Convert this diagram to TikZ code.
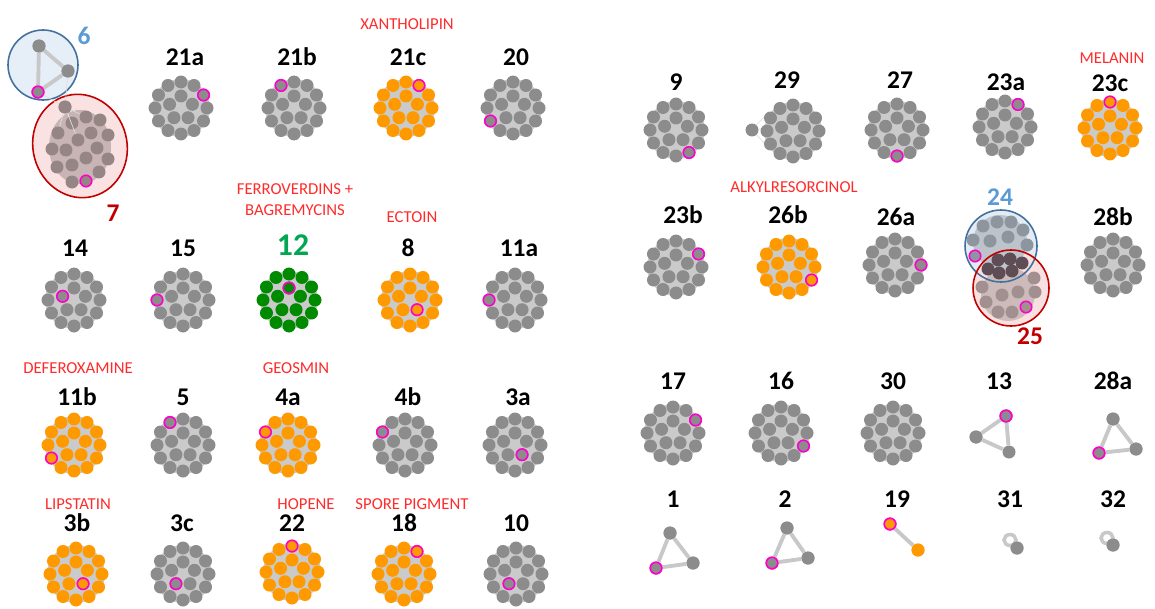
\documentclass[tikz,border=0pt]{standalone}
\usepackage{fontspec}
\setmainfont{Carlito}
\usetikzlibrary{shapes.geometric, positioning}

\definecolor{dotgrey}{HTML}{8C8C8C}
\definecolor{discgrey}{HTML}{CACACA}
\definecolor{dotorange}{HTML}{FF9900}
\definecolor{dotgreen}{HTML}{008A00}
\definecolor{hitpink}{HTML}{FF00CC}
\definecolor{labelred}{HTML}{FF2A2A}
\definecolor{labelgreen}{HTML}{00A650}
\definecolor{darkred}{HTML}{C00000}
\definecolor{labelblue}{HTML}{5B9BD5}
\definecolor{ringblue}{HTML}{41719C}
\definecolor{edgegrey}{HTML}{C8C8C8}
\definecolor{sixfill}{HTML}{E6EEF8}
\definecolor{sevenfill}{HTML}{FAE2E2}
\definecolor{sevendisc}{HTML}{C8B4B4}
\definecolor{sevendot}{HTML}{968585}
\definecolor{bluefill}{HTML}{E3EBF4}
\definecolor{redfill}{HTML}{F8E0E0}
\definecolor{bluedisc}{HTML}{BCC3CA}
\definecolor{reddisc}{HTML}{CDBBBB}
\definecolor{bluedot}{HTML}{8D969E}
\definecolor{bothdot}{HTML}{5E4D54}
\definecolor{reddot}{HTML}{A28F8F}

\begin{document}
\begin{tikzpicture}[
x=0.02cm, y=-0.02cm,
    dot/.style={circle, inner sep=0pt, minimum size=0.26cm, fill=dotgrey},
    hit/.style={dot, draw=hitpink, line width=0.9pt, minimum size=0.23cm},
    edge/.style={draw=edgegrey, line width=2.2pt},
    faint/.style={draw=edgegrey!60, line width=0.4pt},
    num/.style={font=\fontsize{14.5}{16}\selectfont\bfseries},
    product/.style={text=labelred, font=\fontsize{9.5}{12}\selectfont, align=center}
]
    \useasboundingbox (0,0) rectangle (1155,608);

    % --- Clusters with one highlighted member ---
    \foreach \nm/\cx/\cy/\col/\ha/\hr in {
        21a/181/108/dotgrey/-30/26, 21b/294/108/dotgrey/-120/26,
        21c/406/108/dotorange/-60/26, 20/513/108/dotgrey/150/26,
        14/74/300/dotgrey/198/12, 15/183/300/dotgrey/180/26,
        12/289/300/dotgreen/-90/12, 8/410/300/dotorange/54/12,
        11a/515/300/dotgrey/180/26,
        11b/74/445/dotorange/150/26, 5/183/445/dotgrey/-120/26,
        4a/288/445/dotorange/-150/26, 4b/405/445/dotgrey/-150/26,
        3a/515/445/dotgrey/54/12,
        3b/76/574/dotorange/54/12, 3c/183/574/dotgrey/126/12,
        22/292/572/dotorange/-90/26, 18/404/574/dotorange/-60/26,
        10/516/574/dotgrey/126/12,
        9/676/130/dotgrey/60/26, 27/897/130/dotgrey/90/26,
        23a/1005/127/dotgrey/-60/26, 23c/1110/128/dotorange/-90/26,
        23b/676/267/dotgrey/-30/26, 26b/789/267/dotorange/30/26,
        26a/895/265/dotgrey/0/26,
        17/673/433/dotgrey/-30/26, 16/781/433/dotgrey/30/26}{
        \begin{scope}[shift={(\cx,\cy)}]
            \fill[discgrey] (0,0) circle (29);
            \foreach \a in {0,30,...,330}
                \node[dot, fill=\col] (c\nm-o\a) at (\a:26) {};
            \foreach \a in {-90,-18,54,126,198}
                \node[dot, fill=\col] (c\nm-i\a) at (\a:12) {};
            \node[hit, fill=\col] (c\nm-h) at (\ha:\hr) {};
        \end{scope}
    }

    % --- Clusters without highlight ---
    \node[dot] (c29-x) at (752,130) {};
    \draw[faint] (c29-x) -- (767,128);
    \draw[faint] (c29-x) -- (767,114);
    \draw[faint] (c29-x) -- (767,146);
    \foreach \nm/\cx/\cy in {29/793/131, 28b/1113/265, 30/893/433}{
        \begin{scope}[shift={(\cx,\cy)}]
            \fill[discgrey] (0,0) circle (29);
            \foreach \a in {0,30,...,330}
                \node[dot] (c\nm-o\a) at (\a:26) {};
            \foreach \a in {-90,-18,54,126,198}
                \node[dot] (c\nm-i\a) at (\a:12) {};
        \end{scope}
    }

    % --- 6 and 7 ---
    \draw[ringblue, fill=sixfill, line width=0.9pt] (43,65) circle (35);
    \draw[darkred, fill=sevenfill, line width=0.9pt, rotate around={15:(80,146)}] (80,146) ellipse (47 and 52);
    \fill[sevendisc] (80,147) ellipse (31 and 37);
    \node[dot] (t6a) at (39,46) {};
    \node[dot] (t6b) at (68,71) {};
    \node[hit] (t6c) at (38,92) {};
    \foreach \p/\q/\n in {65/107/1, 86/117/2, 100/120/3, 72/123/4, 58/133/5, 78/140/6,
        91/133/7, 108/135/8, 52/149/9, 66/150/10, 86/158/11, 97/148/12,
        108/159/13, 57/167/14, 72/165/15, 99/172/16, 72/182/17}
        \node[dot, fill=sevendot] (c7-\n) at (\p,\q) {};
    \node[hit, fill=sevendot] (c7-18) at (86,181) {};
    \draw[edge] (t6a) -- (t6b);
    \draw[edge] (t6b) -- (t6c);
    \draw[edge] (t6c) -- (t6a);
    \draw[faint] (t6b) -- (c7-1);
    \draw[faint] (t6c) -- (c7-1);
    \foreach \n in {2,4,5,6} \draw[faint] (c7-1) -- (c7-\n);
    \node[dot] at (t6a) {};
    \node[dot] at (t6b) {};
    \node[hit] at (t6c) {};
    \node[dot, fill=sevendot] at (c7-1) {};

    % --- 24 and 25 ---
    \fill[bluefill] (1001,246) circle (36);
    \fill[redfill] (1011,288) circle (38);
    \fill[bluedisc] (1000,242) circle (27);
    \fill[reddisc] (1008,294) circle (27);
    \foreach \p/\q/\n in {983/226/1, 997/222/2, 1011/222/3, 1023/230/4, 973/240/5,
        990/241/6, 1008/237/7, 1027/245/8}
        \node[dot, fill=bluedot] (c24-\n) at (\p,\q) {};
    \node[hit, fill=bluedot] (c24-9) at (975,256) {};
    \foreach \p/\q/\n in {998/260/1, 1010/259/2, 1022/263/3, 988/269/4, 999/273/5, 1012/271/6}
        \node[dot, fill=bothdot] (cboth-\n) at (\p,\q) {};
    \foreach \p/\q/\n in {1034/278/1, 982/287/2, 1002/295/3, 1018/292/4, 1035/292/5,
        986/302/6, 998/312/7, 1012/312/8}
        \node[dot, fill=reddot] (c25-\n) at (\p,\q) {};
    \node[hit, fill=reddot] (c25-9) at (1026,307) {};
    \draw[ringblue, line width=0.9pt] (1001,246) circle (36);
    \draw[darkred, line width=0.9pt] (1011,288) circle (38);

    % --- Small components ---
    \node[hit] (t13a) at (1006,416) {};
    \node[dot] (t13b) at (976,437) {};
    \node[dot] (t13c) at (1009,452) {};
    \node[dot] (t28a) at (1113,419) {};
    \node[dot] (t28b) at (1136,449) {};
    \node[hit] (t28c) at (1099,453) {};
    \node[dot] (t1a) at (670,533) {};
    \node[dot] (t1b) at (693,563) {};
    \node[hit] (t1c) at (656,568) {};
    \node[dot] (t2a) at (787,528) {};
    \node[dot] (t2b) at (808,558) {};
    \node[hit] (t2c) at (772,563) {};
    \node[hit, fill=dotorange] (p19a) at (890,524) {};
    \node[dot, fill=dotorange] (p19b) at (918,550) {};
    \node[dot] (s31) at (1017,548) {};
    \node[dot] (s32) at (1113,545) {};
    \foreach \t in {13,28,1,2}{
        \draw[edge] (t\t a) -- (t\t b);
        \draw[edge] (t\t b) -- (t\t c);
        \draw[edge] (t\t c) -- (t\t a);
        \node[dot] at (t\t a) {};
        \node[dot] at (t\t b) {};
    }
    \foreach \t in {13a,28c,1c,2c} \node[hit] at (t\t) {};
    \draw[edge] (p19a) -- (p19b);
    \node[hit, fill=dotorange] at (p19a) {};
    \node[dot, fill=dotorange] at (p19b) {};
    \draw[draw=edgegrey, line width=2pt] (1010,540) ellipse (6 and 5.5);
    \draw[draw=edgegrey, line width=2pt] (1107,538) ellipse (6 and 5.5);
    \node[dot] at (s31) {};
    \node[dot] at (s32) {};

    % --- Cluster numbers ---
    \foreach \nm/\lx/\ly in {21a/185/57, 21b/297/57, 21c/408/57, 20/516/57,
        14/75/248, 15/183/248, 8/408/248, 11a/519/248,
        11b/77/397, 5/183/397, 4a/288/397, 4b/408/397, 3a/518/397,
        3b/77/523, 3c/182/523, 22/292/523, 18/404/523, 10/516/523,
        9/676/82, 29/787/80, 27/900/80, 23a/1006/82, 23c/1110/83,
        23b/683/215, 26b/788/215, 26a/896/217, 28b/1113/217,
        17/673/381, 16/781/381, 30/893/381, 13/999/381, 28a/1113/381,
        1/673/499, 2/785/499, 19/897/499, 31/1010/499, 32/1113/499}
        \node[num] (l\nm) at (\lx,\ly) {\nm};
    \node[num, text=labelgreen, font=\fontsize{18}{20}\selectfont\bfseries] (l12) at (293,245) {12};
    \node[num, text=labelblue] (l6) at (84,36) {6};
    \node[num, text=darkred] (l7) at (113,213) {7};
    \node[num, text=labelblue] (l24) at (1000,197) {24};
    \node[num, text=darkred] (l25) at (1030,336) {25};

    % --- Product names ---
    \node[product] (xan) at (407,24) {XANTHOLIPIN};
    \node[product] (fer) at (295,200) {FERROVERDINS +\\BAGREMYCINS};
    \node[product] (ect) at (412,217) {ECTOIN};
    \node[product] (def) at (78,368) {DEFEROXAMINE};
    \node[product] (geo) at (296,368) {GEOSMIN};
    \node[product] (lip) at (78,504) {LIPSTATIN};
    \node[product] (hop) at (306,504) {HOPENE};
    \node[product] (spo) at (412,504) {SPORE PIGMENT};
    \node[product] (mel) at (1112,58) {MELANIN};
    \node[product] (alk) at (794,187) {ALKYLRESORCINOL};

\end{tikzpicture}
\end{document}
